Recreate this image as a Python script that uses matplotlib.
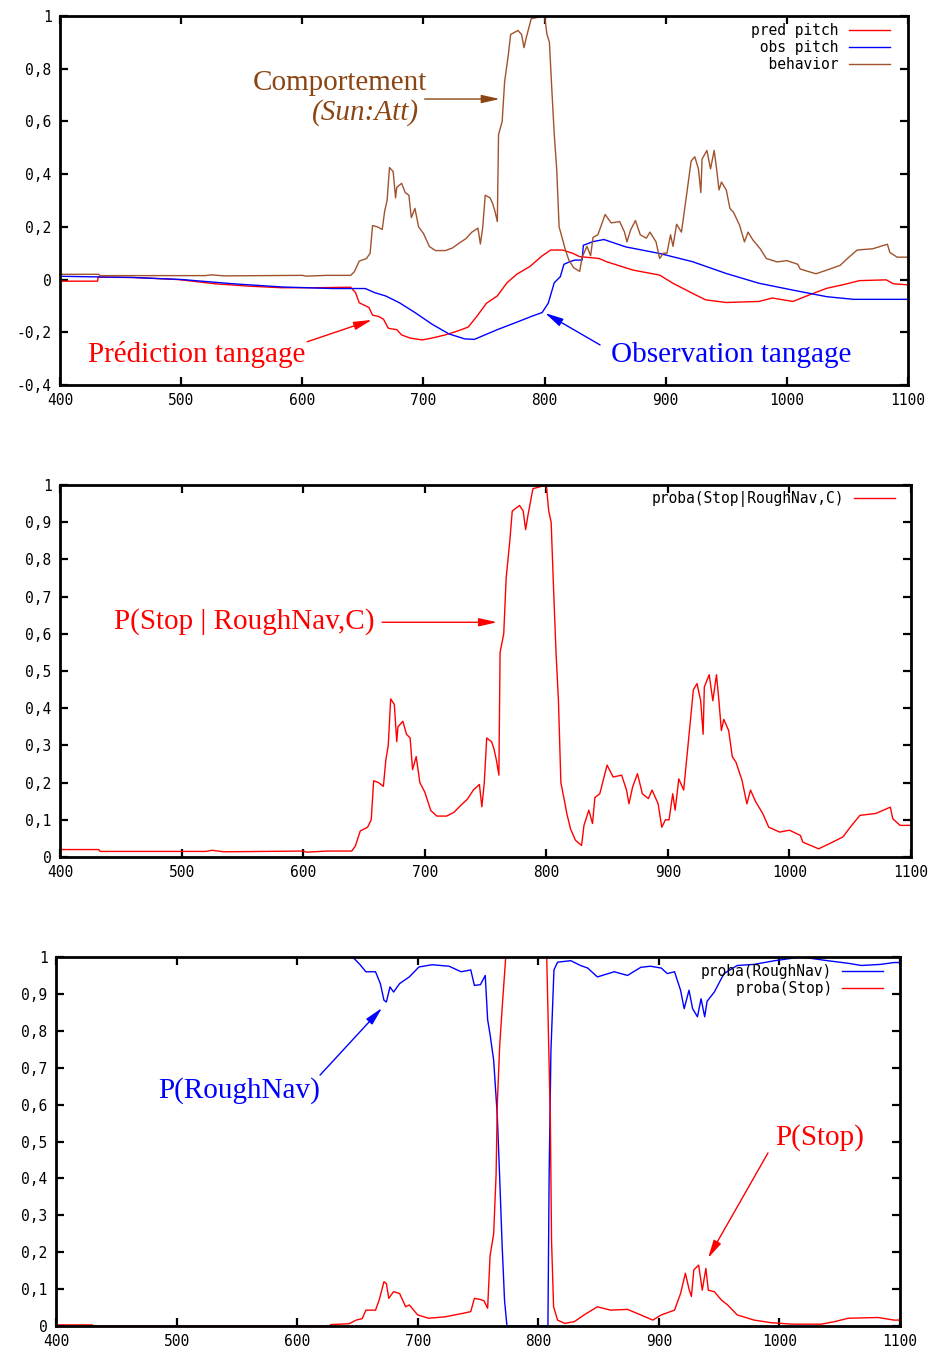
import matplotlib
matplotlib.use("Agg")
import matplotlib.pyplot as plt
from matplotlib.ticker import FuncFormatter, FixedLocator

# ---------------- data ----------------
# proba(Stop | RoughNav, C)  == behaviour curve
stopc_x = [400, 432, 433, 520, 525, 535, 600, 603, 620, 640, 643, 647, 653, 656, 658, 662, 666, 668, 670,
           672, 675, 677, 678, 682, 685, 688, 690, 693, 696, 700, 705, 710, 718, 724, 730, 735, 740, 745,
           747, 749, 751, 755, 757, 759, 761, 762, 765, 767, 770, 772, 778, 781, 783, 785, 787, 789, 800,
           802, 804, 806, 808, 810, 812, 815, 817, 820, 824, 829, 831, 835, 838, 840, 844, 850, 855, 862,
           866, 868, 871, 875, 879, 884, 887, 892, 895, 898, 901, 904, 906, 909, 913, 917, 921, 924, 927,
           929, 930, 934, 937, 940, 942, 944, 946, 950, 953, 956, 961, 965, 968, 972, 978, 983, 992, 1000,
           1009, 1011, 1024, 1033, 1044, 1050, 1058, 1071, 1083, 1085, 1091, 1100]
stopc_y = [0.02, 0.02, 0.015, 0.015, 0.018, 0.014, 0.016, 0.013, 0.016, 0.016, 0.03, 0.07, 0.08, 0.10,
           0.205, 0.20, 0.19, 0.26, 0.30, 0.425, 0.41, 0.31, 0.35, 0.365, 0.33, 0.32, 0.235, 0.27, 0.20,
           0.175, 0.125, 0.11, 0.11, 0.12, 0.14, 0.155, 0.18, 0.195, 0.135, 0.20, 0.32, 0.31, 0.29, 0.26,
           0.22, 0.55, 0.60, 0.75, 0.85, 0.93, 0.945, 0.93, 0.88, 0.92, 0.955, 0.99, 1.0, 0.93, 0.90, 0.72,
           0.55, 0.42, 0.20, 0.15, 0.115, 0.075, 0.045, 0.031, 0.085, 0.126, 0.09, 0.16, 0.17, 0.247, 0.215,
           0.22, 0.18, 0.143, 0.188, 0.224, 0.17, 0.157, 0.18, 0.143, 0.08, 0.10, 0.10, 0.17, 0.126, 0.21,
           0.18, 0.314, 0.45, 0.466, 0.42, 0.33, 0.457, 0.49, 0.42, 0.49, 0.42, 0.34, 0.37, 0.34, 0.27,
           0.255, 0.206, 0.143, 0.18, 0.15, 0.117, 0.08, 0.067, 0.072, 0.058, 0.04, 0.022, 0.036, 0.054,
           0.08, 0.112, 0.117, 0.134, 0.103, 0.085, 0.085]

pred_x = [400, 431, 431.5, 460, 498, 528, 556, 583, 611, 640, 644, 647, 655, 658, 663, 667, 671, 678, 682,
          689, 699, 707, 718, 729, 737, 744, 752, 761, 769, 777, 788, 798, 805, 815, 823, 829, 845, 851,
          873, 895, 906, 922, 933, 950, 977, 988, 1005, 1022, 1033, 1046, 1060, 1082, 1088, 1100]
pred_y = [-0.006, -0.006, 0.009, 0.008, 0.0, -0.016, -0.025, -0.031, -0.031, -0.029, -0.05, -0.088,
          -0.106, -0.135, -0.14, -0.15, -0.185, -0.19, -0.21, -0.222, -0.229, -0.222, -0.21, -0.194,
          -0.18, -0.14, -0.09, -0.062, -0.012, 0.02, 0.05, 0.09, 0.112, 0.112, 0.10, 0.087, 0.08, 0.068,
          0.036, 0.017, -0.014, -0.052, -0.077, -0.087, -0.083, -0.07, -0.083, -0.052, -0.033, -0.02,
          -0.004, -0.001, -0.016, -0.02]

obs_x = [400, 460, 501, 543, 583, 625, 652, 660, 669, 680, 693, 707, 721, 734, 742, 761, 778, 789, 798,
         803, 808, 813, 816, 821, 825, 831, 832, 840, 849, 867, 895, 922, 950, 977, 1005, 1033, 1055, 1100]
obs_y = [0.0125, 0.008, 0.0, -0.016, -0.028, -0.034, -0.034, -0.05, -0.0625, -0.0875, -0.125, -0.169,
         -0.206, -0.225, -0.227, -0.19, -0.16, -0.14, -0.125, -0.09, -0.012, 0.011, 0.058, 0.068, 0.074,
         0.074, 0.13, 0.144, 0.152, 0.124, 0.099, 0.068, 0.023, -0.014, -0.04, -0.065, -0.075, -0.075]

rough_x = [400, 646, 652, 657, 665, 669, 672, 674, 677, 680, 685, 693, 701, 712, 726, 736, 744, 747, 752,
           756, 758, 760, 763, 766, 768, 770, 772, 774, 808, 809, 810.5, 813, 816, 827, 835, 841, 849, 863,
           874, 885, 893, 902, 907, 913, 918, 921, 925, 928, 932, 935, 938, 940, 946, 954, 965, 979, 996,
           1018, 1040, 1057, 1068, 1084, 1095, 1100]
rough_y = [1.0, 1.0, 0.98, 0.96, 0.96, 0.928, 0.883, 0.878, 0.919, 0.905, 0.928, 0.946, 0.973, 0.979,
           0.975, 0.96, 0.965, 0.923, 0.925, 0.95, 0.83, 0.79, 0.72, 0.57, 0.40, 0.22, 0.07, 0.0, 0.0,
           0.41, 0.747, 0.965, 0.986, 0.99, 0.977, 0.97, 0.946, 0.96, 0.95, 0.972, 0.975, 0.97, 0.955,
           0.96, 0.91, 0.86, 0.91, 0.86, 0.838, 0.887, 0.838, 0.88, 0.905, 0.955, 0.977, 0.98, 0.99, 1.0,
           0.99, 0.983, 0.977, 0.98, 0.985, 0.985]

stop_x = [400, 430, 431, 627, 628, 643, 649, 654, 657, 665, 668, 672, 674, 676, 680, 685, 690, 693, 700,
          709, 723, 737, 744, 747, 752, 755, 758, 760, 763, 765, 766, 768, 770, 773, 807, 808, 810, 811,
          812.7, 816, 822, 830, 838, 849, 860, 874, 885, 895, 902, 913, 918, 922, 925, 927, 929, 933, 936,
          939, 941, 946, 952, 957, 965, 979, 993, 1010, 1035, 1046, 1057, 1082, 1095, 1100]
stop_y = [0.003, 0.003, 0.0, 0.0, 0.004, 0.006, 0.016, 0.02, 0.043, 0.043, 0.07, 0.12, 0.115, 0.075,
          0.093, 0.088, 0.052, 0.057, 0.03, 0.021, 0.025, 0.034, 0.039, 0.075, 0.072, 0.068, 0.048, 0.19,
          0.25, 0.41, 0.60, 0.76, 0.86, 1.0, 1.0, 0.855, 0.56, 0.23, 0.052, 0.016, 0.007, 0.012, 0.03,
          0.052, 0.043, 0.045, 0.03, 0.016, 0.03, 0.043, 0.088, 0.143, 0.10, 0.08, 0.152, 0.165, 0.097,
          0.156, 0.097, 0.093, 0.07, 0.057, 0.03, 0.016, 0.009, 0.005, 0.005, 0.012, 0.021, 0.023, 0.016,
          0.016]

x_ticks = [400, 500, 600, 700, 800, 900, 1000, 1100]
y_ticks_top = [-0.4, -0.2, 0, 0.2, 0.4, 0.6, 0.8, 1]
y_ticks_prob = [0, 0.1, 0.2, 0.3, 0.4, 0.5, 0.6, 0.7, 0.8, 0.9, 1]

# ---------------- style ----------------
RED = "#ff0000"
BLUE = "#0000ff"
BROWN = "#a0522d"
BROWN_TXT = "#8b4513"
MONO = "DejaVu Sans Mono"
SERIF = "Liberation Serif"
LW = 1.0

fig = plt.figure(figsize=(9.35, 13.54), dpi=100)
ax1 = fig.add_axes([60/935, 1-385/1354, 848/935, 369/1354])
ax2 = fig.add_axes([60/935, 1-857/1354, 851/935, 372/1354])
ax3 = fig.add_axes([56/935, 1-1326/1354, 844/935, 369/1354])

fmt = FuncFormatter(lambda v, p: ("%g" % round(v, 3)).replace(".", ","))


def style(ax, yticks):
    ax.set_xlim(400, 1100)
    ax.set_ylim(yticks[0], yticks[-1])
    ax.xaxis.set_major_locator(FixedLocator(x_ticks))
    ax.yaxis.set_major_locator(FixedLocator(yticks))
    ax.yaxis.set_major_formatter(fmt)
    ax.tick_params(direction="in", length=6, width=1.6, top=True, right=True,
                   labelsize=10.5, pad=6)
    for lab in ax.get_xticklabels() + ax.get_yticklabels():
        lab.set_fontfamily(MONO)
    for s in ax.spines.values():
        s.set_linewidth(2.0)


def arrow(ax, tail, head, color):
    ax.annotate("", xy=head, xytext=tail,
                arrowprops=dict(arrowstyle="-|>,head_length=1.1,head_width=0.25",
                                color=color, lw=1.0, shrinkA=0, shrinkB=0,
                                mutation_scale=10))


def legend(ax, anchor):
    leg = ax.legend(loc="upper right", bbox_to_anchor=anchor, frameon=False,
                    markerfirst=False, handlelength=2.8, handletextpad=0.7,
                    labelspacing=0.15, borderpad=0, borderaxespad=0,
                    prop={"family": MONO, "size": 10.5})
    return leg


# ---- panel 1 ----
ax1.plot(pred_x, pred_y, color=RED, lw=LW, label="pred pitch")
ax1.plot(obs_x, obs_y, color=BLUE, lw=LW, label=" obs pitch")
ax1.plot(stopc_x, stopc_y, color=BROWN, lw=LW, label="  behavior")
style(ax1, y_ticks_top)
legend(ax1, (1 - 18/848, 1 - 7/369))
ax1.text(631, 0.746, "Comportement", color=BROWN_TXT, family=SERIF, fontsize=21,
         ha="center", va="center")
ax1.text(652, 0.635, "(Sun:Att)", color=BROWN_TXT, family=SERIF, style="italic",
         fontsize=21, ha="center", va="center")
arrow(ax1, (701, 0.685), (763, 0.685), BROWN_TXT)
ax1.text(513, -0.286, "Prédiction tangage", color=RED, family=SERIF, fontsize=21,
         ha="center", va="center")
arrow(ax1, (604, -0.236), (657.5, -0.153), RED)
ax1.text(954, -0.286, "Observation tangage", color=BLUE, family=SERIF, fontsize=21,
         ha="center", va="center")
arrow(ax1, (845.8, -0.248), (800.4, -0.127), BLUE)

# ---- panel 2 ----
ax2.plot(stopc_x, stopc_y, color=RED, lw=LW, label="proba(Stop|RoughNav,C)")
style(ax2, y_ticks_prob)
legend(ax2, (1 - 16/851, 1 - 6/372))
ax2.text(551.4, 0.633, "P(Stop | RoughNav,C)", color=RED, family=SERIF, fontsize=21,
         ha="center", va="center")
arrow(ax2, (664.9, 0.631), (759.5, 0.631), RED)

# ---- panel 3 ----
ax3.plot(rough_x, rough_y, color=BLUE, lw=LW, label="proba(RoughNav)")
ax3.plot(stop_x, stop_y, color=RED, lw=LW, label="    proba(Stop)")
style(ax3, y_ticks_prob)
legend(ax3, (1 - 17/844, 1 - 7/369))
ax3.text(552.2, 0.637, "P(RoughNav)", color=BLUE, family=SERIF, fontsize=21,
         ha="center", va="center")
arrow(ax3, (619, 0.680), (670.4, 0.862), BLUE)
ax3.text(1033.7, 0.512, "P(Stop)", color=RED, family=SERIF, fontsize=21,
         ha="center", va="center")
arrow(ax3, (990.5, 0.469), (940.8, 0.184), RED)

fig.savefig("out.png", dpi=100)
